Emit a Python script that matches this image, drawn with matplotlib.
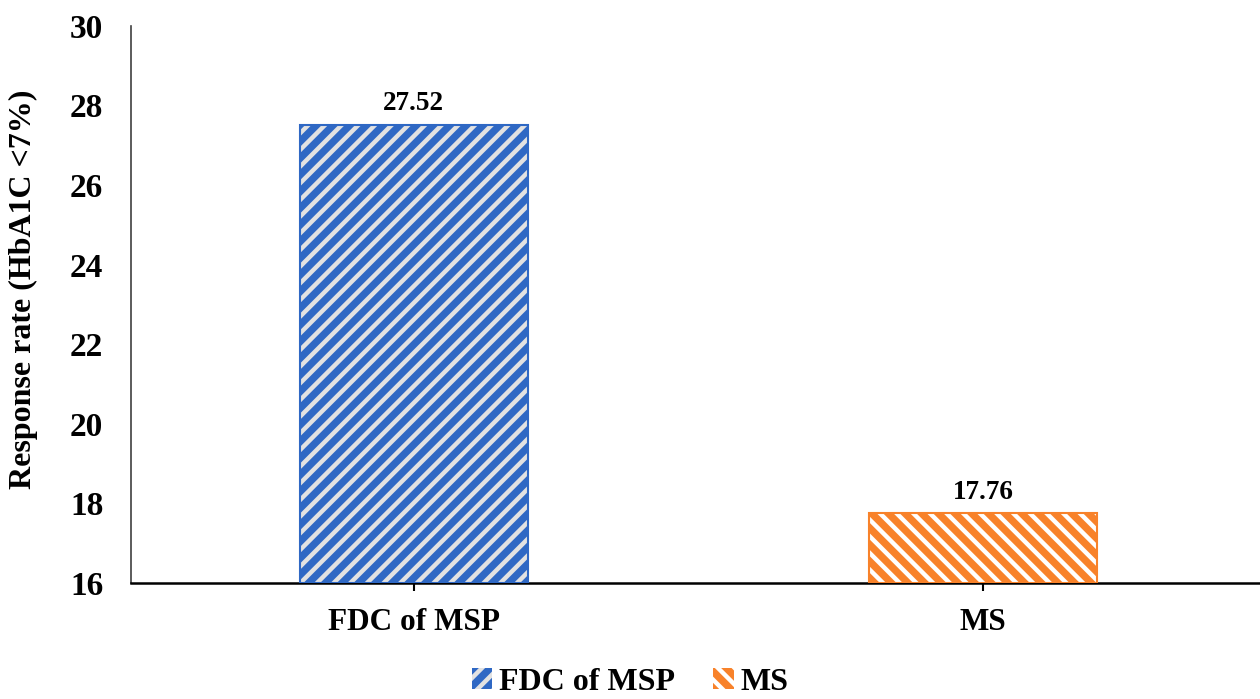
import matplotlib
matplotlib.use("Agg")
import matplotlib.pyplot as plt
from matplotlib.patches import Patch

categories = ["FDC of MSP", "MS"]
values = [27.52, 17.76]
value_labels = ["27.52", "17.76"]
yticks = [16, 18, 20, 22, 24, 26, 28, 30]

colors = ["#2F68C4", "#F8822A"]
stripe_colors = ["#E2E2E2", "#FFFFFF"]
hatches = ["//", "\\\\"]

plt.rcParams["font.family"] = ["Liberation Serif", "DejaVu Serif"]
plt.rcParams["font.weight"] = "bold"
plt.rcParams["hatch.linewidth"] = 3.2

fig = plt.figure(figsize=(12.6, 6.99), dpi=100)
ax = fig.add_axes([0.104, 0.166, 0.896, 0.797])

x = list(range(len(categories)))
base = 16
for i, (v, c, sc, h) in enumerate(zip(values, colors, stripe_colors, hatches)):
    ax.bar(x[i], v - base, bottom=base, width=0.40, color=c, edgecolor=sc,
           hatch=h, linewidth=0, zorder=2)
    ax.bar(x[i], v - base, bottom=base, width=0.40, fill=False, edgecolor=c,
           linewidth=1.5, zorder=3)
    ax.annotate(value_labels[i], (x[i], v), xytext=(0, 6), textcoords="offset points",
                ha="center", va="bottom", fontsize=19.5, fontweight="bold")

ax.set_xlim(-0.497, 1.487)
ax.set_ylim(16, 30)
ax.set_yticks(yticks)
ax.set_yticklabels([str(t) for t in yticks], fontsize=24, fontweight="bold")
ax.set_xticks(x)
ax.set_xticklabels(categories, fontsize=22.5, fontweight="bold")
ax.tick_params(axis="y", length=0, pad=20)
ax.tick_params(axis="x", length=6, width=1.5, direction="out", pad=12)
ax.set_ylabel("Response rate (HbA1C <7%)", fontsize=23, fontweight="bold", labelpad=20)
ax.yaxis.set_label_coords(-0.082, 0.527)

for s in ["top", "right"]:
    ax.spines[s].set_visible(False)
ax.spines["left"].set_color("#404040")
ax.spines["left"].set_linewidth(1.2)
ax.spines["bottom"].set_color("black")
ax.spines["bottom"].set_linewidth(1.8)

handles = [Patch(facecolor=c, edgecolor=sc, hatch=h, linewidth=0)
           for c, sc, h in zip(colors, stripe_colors, hatches)]
fig.legend(handles, categories, loc="center", bbox_to_anchor=(0.5, 0.024),
           ncol=2, frameon=False, prop={"size": 23, "weight": "bold"},
           handlelength=0.65, handleheight=0.65, handletextpad=0.2, columnspacing=1.2)

fig.savefig("out.png", dpi=100)
